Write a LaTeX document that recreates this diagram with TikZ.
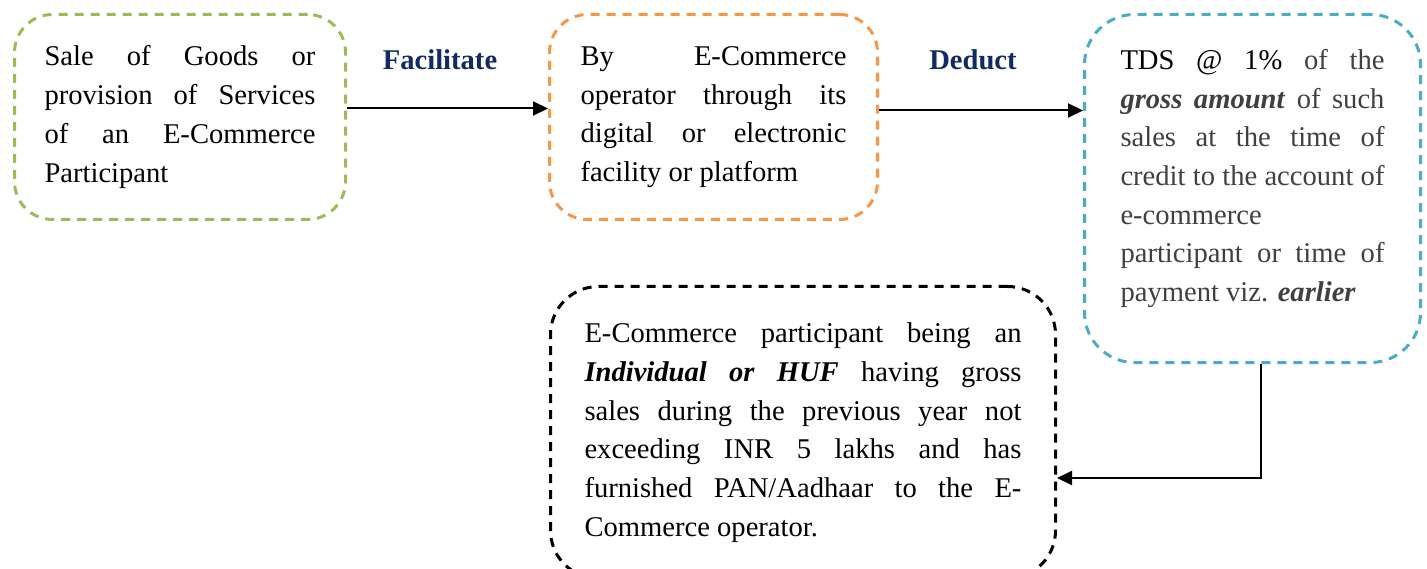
\documentclass[tikz,border=0pt]{standalone}
\usepackage{fontspec}
\setmainfont{Liberation Serif}
\usetikzlibrary{arrows.meta}

\definecolor{boxgreen}{HTML}{9BBB59}
\definecolor{boxorange}{HTML}{F79646}
\definecolor{boxblue}{HTML}{4BACC6}
\definecolor{labelnavy}{HTML}{112A66}
\definecolor{textgray}{HTML}{404040}

\begin{document}
\hyphenpenalty=10000
\tolerance=9999
\begin{tikzpicture}[x=1pt, y=-1pt,
  every node/.style={font=\fontsize{28.6}{38.7}\selectfont},
  flowbox/.style={draw, line width=3pt, dash pattern=on 9pt off 7pt,
    rounded corners=#1, align=justify, anchor=north west, inner ysep=0pt},
  lbl/.style={font=\fontsize{28.6}{38.7}\selectfont\bfseries, text=labelnavy},
  conn/.style={line width=2pt, -{Triangle[length=15pt,width=14pt]}}]
  \useasboundingbox (0,0) rectangle (1427,569);

  % the four boxes
  \node[flowbox=38pt, draw=boxgreen, text width=271pt, inner xsep=30pt,
    minimum height=205pt] (sale) at (13,13)
    {Sale of Goods or\linebreak provision of Services\linebreak
     of an E-Commerce\linebreak Participant\par\vspace*{12pt}};
  \node[flowbox=38pt, draw=boxorange, text width=266pt, inner xsep=31pt,
    minimum height=205pt] (oper) at (548,13)
    {By E-Commerce\linebreak operator through its\linebreak
     digital or electronic\linebreak facility or platform\par\vspace*{12pt}};
  \node[flowbox=50pt, draw=boxblue, text=textgray, text width=264pt,
    inner xsep=36pt, minimum height=348pt] (tds) at (1083,13)
    {{\color{black}TDS @ 1\%} of the\linebreak
     \textbf{\textit{gross amount}} of such\linebreak
     sales at the time of\linebreak credit to the account of\linebreak
     e-commerce\newline participant or time of\linebreak
     payment viz. \textbf{\textit{earlier}}\par\vspace*{20pt}};
  \node[flowbox=48pt, draw=black, text width=437pt, inner xsep=34pt,
    minimum height=292pt] (elig) at (549,285)
    {E-Commerce participant being an\linebreak
     \textbf{\textit{Individual or HUF}} having gross\linebreak
     sales during the previous year not\linebreak
     exceeding INR 5 lakhs and has\linebreak
     furnished PAN/Aadhaar to the E-\linebreak
     Commerce operator.\par\vspace*{16pt}};

  % labels over the arrows
  \node[lbl] (facil) at (440,60) {Facilitate};
  \node[lbl] (deduct) at (973,60) {Deduct};

  % connectors
  \coordinate (dedstart) at ([yshift=6.5pt]oper.east);
  \coordinate (bend) at (1261,478);
  \draw[conn] ([yshift=8.5pt]sale.east) -- ([yshift=8.5pt]oper.west);
  \draw[conn] (dedstart) -- (dedstart -| tds.west);
  \draw[conn] (tds.south -| bend) -- (bend) -- (bend -| elig.east);

\end{tikzpicture}
\end{document}
